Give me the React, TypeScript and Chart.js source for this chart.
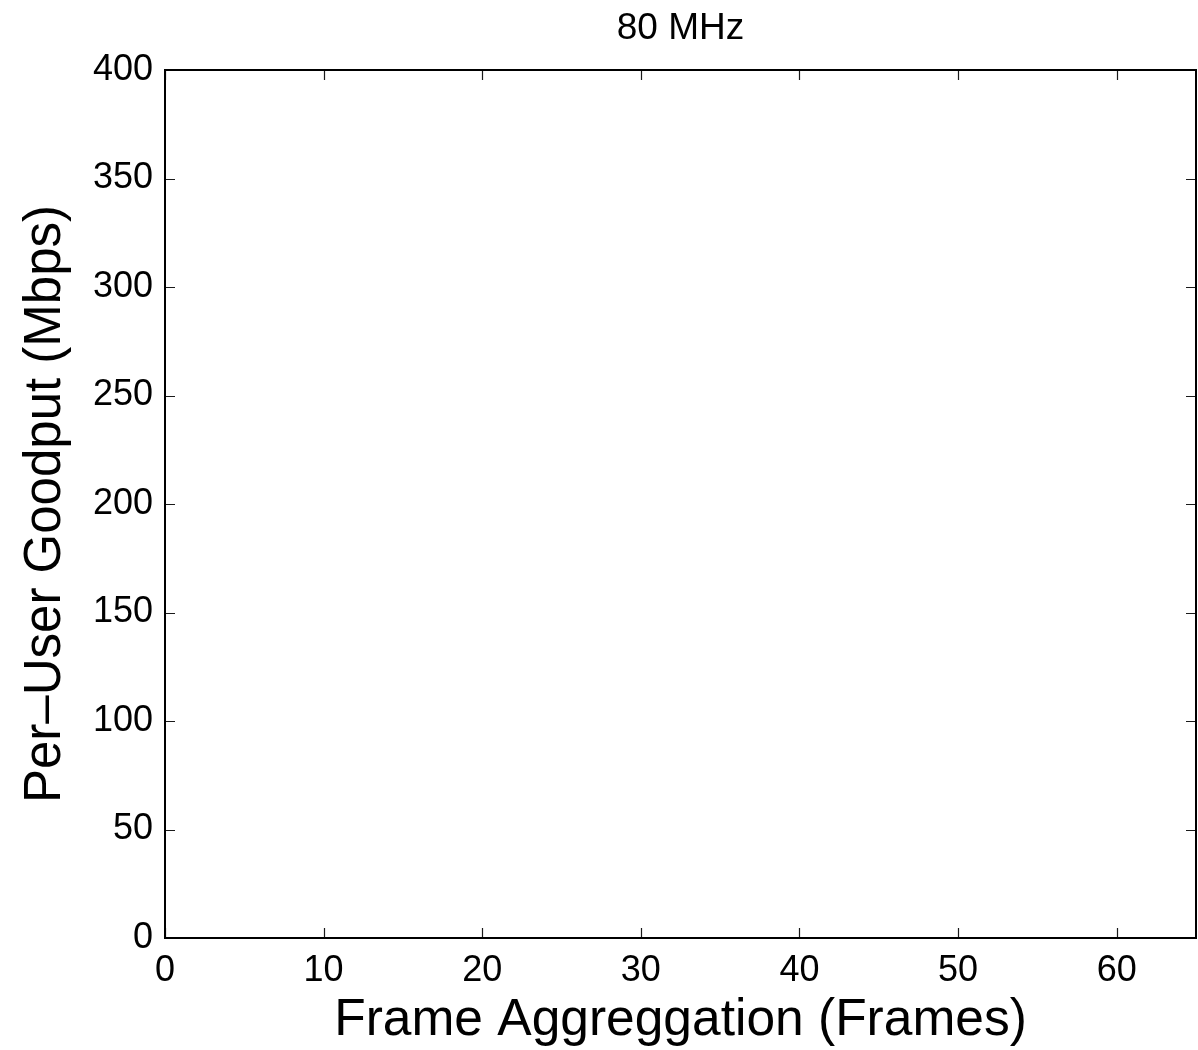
import React, { useEffect, useRef } from "react";
import { Chart, registerables } from "chart.js";

Chart.register(...registerables);

// ---- Data (the reference plot contains no series marks) ----
const frameAggregation: number[] = [];
const perUserGoodput: number[] = [];
const xTickValues = [0, 10, 20, 30, 40, 50, 60];
const yTickValues = [0, 50, 100, 150, 200, 250, 300, 350, 400];
const xRange = [0, 65];
const yRange = [0, 400];
const chartTitle = "80 MHz";
const xAxisTitle = "Frame Aggreggation (Frames)";
const yAxisTitle = "Per\u2013User Goodput (Mbps)";

const FONT = "'Liberation Sans', Arial, Helvetica, sans-serif";

const matlabBox = {
  id: "matlabBox",
  afterDraw(chart: any) {
    const { ctx, chartArea } = chart;
    const { left, right, top, bottom } = chartArea;
    const xs = chart.scales.x;
    const ys = chart.scales.y;
    const tl = 10;
    ctx.save();
    ctx.strokeStyle = "#1a1a1a";
    ctx.lineWidth = 1.2;
    ctx.beginPath();
    for (const t of xs.ticks) {
      const px = Math.round(xs.getPixelForValue(t.value)) + 0.5;
      ctx.moveTo(px, bottom);
      ctx.lineTo(px, bottom - tl);
      ctx.moveTo(px, top);
      ctx.lineTo(px, top + tl);
    }
    for (const t of ys.ticks) {
      const py = Math.round(ys.getPixelForValue(t.value)) + 0.5;
      ctx.moveTo(left, py);
      ctx.lineTo(left + tl, py);
      ctx.moveTo(right, py);
      ctx.lineTo(right - tl, py);
    }
    ctx.stroke();
    ctx.strokeStyle = "#000";
    ctx.lineWidth = 2;
    ctx.strokeRect(left, top, right - left, bottom - top);
    ctx.restore();
  },
};

export default function App() {
  const ref = useRef<HTMLCanvasElement | null>(null);

  useEffect(() => {
    if (!ref.current) return;
    const points = frameAggregation.map((x, i) => ({ x, y: perUserGoodput[i] }));
    const chart = new Chart(ref.current, {
      type: "scatter",
      data: {
        datasets: [
          {
            label: "Goodput",
            data: points,
            showLine: true,
            borderColor: "#0000ff",
            backgroundColor: "#0000ff",
          },
        ],
      },
      options: {
        animation: false,
        responsive: false,
        layout: { padding: { left: 0, right: 2, top: 0, bottom: 0 } },
        plugins: {
          legend: { display: false },
          tooltip: { enabled: false },
          title: { display: false },
        },
        scales: {
          x: {
            type: "linear",
            position: "bottom",
            min: xRange[0],
            max: xRange[1],
            afterBuildTicks: (scale: any) => {
              scale.ticks = xTickValues.map((v) => ({ value: v }));
            },
            afterFit: (scale: any) => {
              scale.height = 112;
            },
            grid: { display: false, drawTicks: false },
            border: { display: false },
            ticks: {
              color: "#000",
              padding: 11,
              maxRotation: 0,
              autoSkip: false,
              font: { family: FONT, size: 36 },
            },
            title: {
              display: true,
              text: xAxisTitle,
              color: "#000",
              font: { family: FONT, size: 51.5, lineHeight: 1 },
              padding: { top: 0, bottom: 3 },
            },
          },
          xTop: {
            type: "linear",
            position: "top",
            min: xRange[0],
            max: xRange[1],
            afterFit: (scale: any) => {
              scale.height = 70;
            },
            grid: { display: false, drawTicks: false },
            border: { display: false },
            ticks: { display: false },
            title: {
              display: true,
              text: chartTitle,
              color: "#000",
              font: { family: FONT, size: 37, lineHeight: 1 },
              padding: { top: 10, bottom: 0 },
            },
          },
          y: {
            type: "linear",
            position: "left",
            min: yRange[0],
            max: yRange[1],
            afterBuildTicks: (scale: any) => {
              scale.ticks = yTickValues.map((v) => ({ value: v }));
            },
            afterFit: (scale: any) => {
              scale.width = 165;
            },
            grid: { display: false, drawTicks: false },
            border: { display: false },
            ticks: {
              color: "#000",
              padding: 12,
              autoSkip: false,
              font: { family: FONT, size: 36 },
            },
            title: {
              display: true,
              text: yAxisTitle,
              color: "#000",
              font: { family: FONT, size: 51, lineHeight: 1 },
              padding: { top: 20, bottom: 0 },
            },
          },
        },
      },
      plugins: [matlabBox],
    } as any);
    return () => chart.destroy();
  }, []);

  return (
    <div style={{ position: "absolute", left: 0, top: 0, width: 1198, height: 1050, background: "#fff" }}>
      <canvas ref={ref} width={1198} height={1050} style={{ display: "block" }} />
    </div>
  );
}
